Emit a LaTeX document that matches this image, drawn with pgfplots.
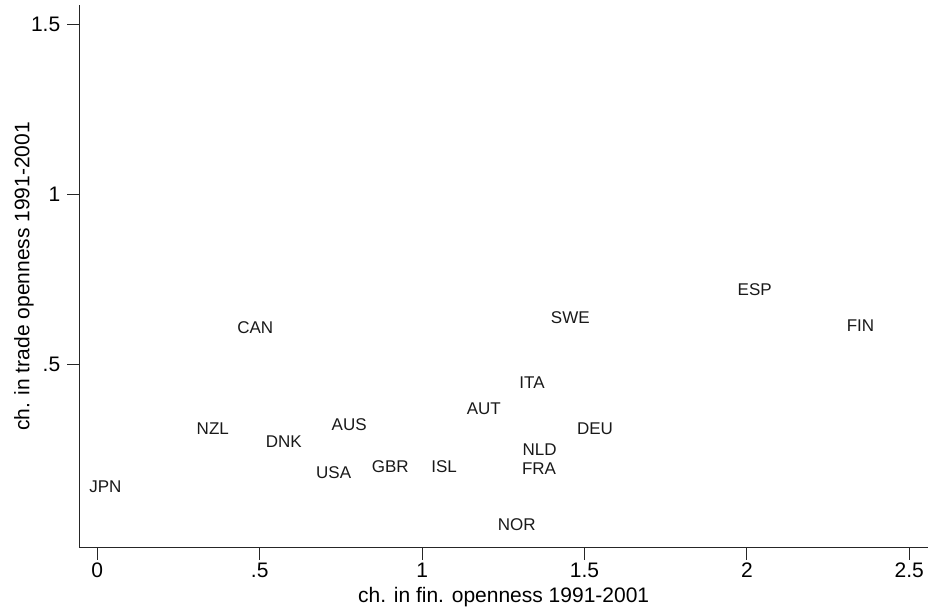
\documentclass[border=0pt]{standalone}
\usepackage{fontspec}
\setmainfont{Liberation Sans}
\usepackage{pgfplots}
\usepackage{pgfplotstable}
\pgfplotsset{compat=1.18}
\pgfplotstableread{
x y label
0.025 0.141 JPN
0.3556 0.3135 NZL
0.4865 0.6087 CAN
0.5739 0.2733 DNK
0.7756 0.3240 AUS
0.7278 0.1843 USA
0.9021 0.2008 GBR
1.0680 0.2008 ISL
1.1900 0.3701 AUT
1.3384 0.4485 ITA
1.3621 0.2498 NLD
1.3599 0.1940 FRA
1.2912 0.0296 NOR
1.4563 0.6393 SWE
1.5323 0.3114 DEU
2.0240 0.7194 ESP
2.3498 0.6137 FIN
}\datatable
\begin{document}
\begin{tikzpicture}
\begin{axis}[
  at={(0,0)}, anchor=south west,
  scale only axis,
  width=424.35pt, height=271.5pt,
  xmin=-0.0554, xmax=2.5575,
  ymin=-0.0379, ymax=1.556,
  axis lines*=left,
  axis line style={black!85, line width=0.5pt},
  tick align=outside,
  major tick length=6pt,
  tick style={black!85, line width=0.5pt},
  xtick={0,0.5,1,1.5,2,2.5},
  xticklabels={0,.5,1,1.5,2,2.5},
  ytick={0.5,1,1.5},
  yticklabels={.5,1,1.5},
  tick label style={font=\fontsize{10.5}{12}\selectfont},
  xticklabel style={anchor=center, yshift=-5pt},
  yticklabel style={anchor=east},
  xlabel={ch. in fin. openness 1991-2001},
  ylabel={ch. in trade openness 1991-2001},
  label style={font=\fontsize{10.5}{12}\selectfont},
  xlabel style={at={(axis description cs:0.5,0)}, anchor=center, yshift=-24.5pt},
  ylabel style={at={(axis description cs:-0.0652,0.5)}, anchor=center},
  clip=false,
]
\addplot[draw=none, mark=none,
  nodes near coords,
  point meta=explicit symbolic,
  nodes near coords align=center,
  every node near coord/.append style={anchor=center, inner sep=0pt, text=black!90, font=\fontsize{8.5}{10}\selectfont},
] table[x=x, y=y, meta=label] {\datatable};
\end{axis}
\pgfresetboundingbox
\path[use as bounding box] (-39.65pt,-30pt) rectangle (424.35pt,274pt);
\end{tikzpicture}
\end{document}
